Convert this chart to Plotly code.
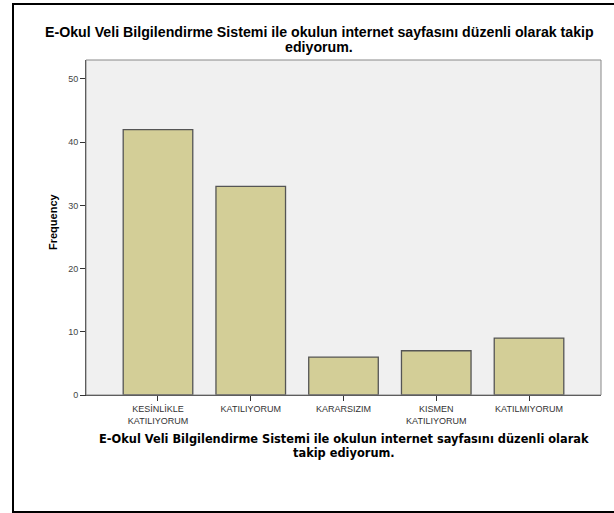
import plotly.graph_objects as go

categories = ["KESİNLİKLE<br>KATILIYORUM", "KATILIYORUM", "KARARSIZIM", "KISMEN<br>KATILIYORUM", "KATILMIYORUM"]
frequency = [42, 33, 6, 7, 9]
y_ticks = [0, 10, 20, 30, 40, 50]
title_lines = ["E-Okul Veli Bilgilendirme Sistemi ile okulun internet sayfasını düzenli olarak takip", "ediyorum."]
xtitle_lines = ["E-Okul Veli Bilgilendirme Sistemi ile okulun internet sayfasını düzenli olarak", "takip ediyorum."]
ytitle = "Frequency"

W, H = 614, 513
L, R, T, B = 86, 13, 60, 118
pw, ph = W - L - R, H - T - B

def px(x):
    return (x - L) / pw

def py(y):
    return (H - B - y) / ph

fig = go.Figure(go.Bar(
    x=list(range(len(categories))), y=frequency, width=0.75,
    marker=dict(color="#d3ce97", line=dict(color="#555555", width=1.3)),
))

ann = []
for txt, yy in zip(title_lines, [32, 47]):
    ann.append(dict(text="<b>" + txt + "</b>", xref="paper", yref="paper", x=px(319), y=py(yy),
                    xanchor="center", yanchor="middle", showarrow=False,
                    font=dict(size=14.2, family="Liberation Sans, Arial")))
for txt, yy in zip(xtitle_lines, [438.5, 452.5]):
    ann.append(dict(text="<b>" + txt + "</b>", xref="paper", yref="paper", x=px(344), y=py(yy),
                    xanchor="center", yanchor="middle", showarrow=False,
                    font=dict(size=11.4, family="DejaVu Sans")))
ann.append(dict(text="<b>" + ytitle + "</b>", xref="paper", yref="paper", x=px(53), y=py(222),
                xanchor="center", yanchor="middle", showarrow=False, textangle=-90,
                font=dict(size=11, family="Liberation Sans, Arial")))

fig.update_layout(
    width=W, height=H, margin=dict(l=L, r=R, t=T, b=B),
    paper_bgcolor="white", plot_bgcolor="#f0f0f0",
    font=dict(family="Liberation Sans, Arial", color="#000000"),
    showlegend=False,
    xaxis=dict(
        range=[-0.776, 4.776], tickmode="array", tickvals=list(range(len(categories))),
        ticktext=categories, ticks="outside", ticklen=5, tickcolor="#333333",
        tickfont=dict(size=9, color="#333333"), showgrid=False, zeroline=False,
        showline=True, linecolor="#333333", linewidth=1, mirror=False,
    ),
    yaxis=dict(
        range=[0, 53], tickvals=y_ticks, ticks="outside", ticklen=5, tickcolor="#333333",
        tickfont=dict(size=9, color="#444444"), showgrid=False, zeroline=False,
        showline=True, linecolor="#333333", linewidth=1,
    ),
    shapes=[
        dict(type="rect", xref="paper", yref="paper", x0=0, x1=1, y0=0, y1=1,
             line=dict(color="#888888", width=1), layer="above"),
        dict(type="rect", xref="paper", yref="paper", x0=px(13), x1=px(616), y0=py(4), y1=py(512),
             line=dict(color="#000000", width=2)),
    ],
    annotations=ann,
)

fig.write_html("out.html", config={"displayModeBar": False},
               post_script="document.body.style.margin='0';document.body.style.overflow='hidden';")
